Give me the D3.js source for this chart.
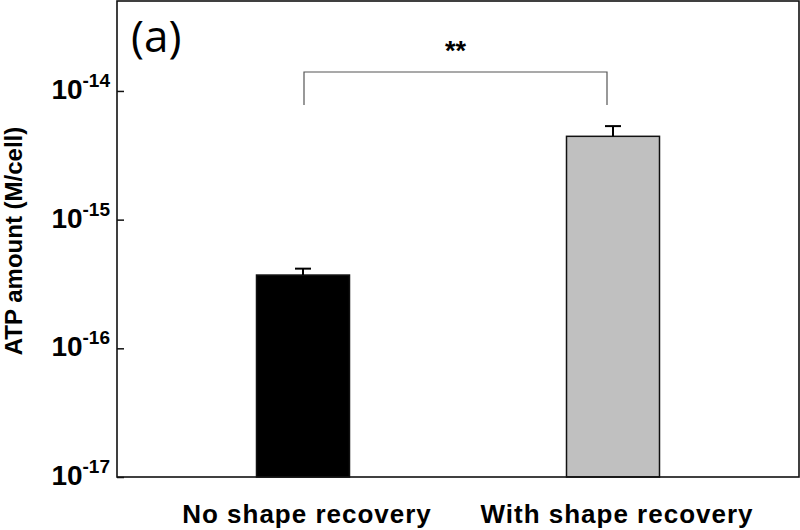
<!DOCTYPE html>
<html><head><meta charset="utf-8">
<script src="https://cdn.jsdelivr.net/npm/d3@7/dist/d3.min.js"></script>
<style>body{margin:0;background:#fff}svg{display:block}</style>
</head><body><svg id="c" width="800" height="530"></svg>
<script>
const categories = ["No shape recovery", "With shape recovery"];
const values = [3.71e-16, 4.44e-15];
const errors = [0.45e-16, 0.89e-15];
const fills = ["#000000", "#c0c0c0"];
const tickExps = [-17, -16, -15, -14];
const significance = "**";
const panelLabel = "(a)";
const yTitle = "ATP amount (M/cell)";

const svg = d3.select("#c");
const m = {l:117, r:1, t:1, b:53};
const W = 800, H = 530;
const x = d3.scaleBand().domain(categories).range([m.l, W - m.r]).paddingInner(0.7).paddingOuter(0.45);
const y = d3.scaleLog().domain([1e-17, 5e-14]).range([H - m.b, m.t]);

// bars
svg.selectAll("rect.bar").data(categories).join("rect")
  .attr("x", d => x(d)).attr("width", x.bandwidth())
  .attr("y", (d,i) => y(values[i])).attr("height", (d,i) => y(1e-17) - y(values[i]))
  .attr("fill", (d,i) => fills[i]).attr("stroke", "#111").attr("stroke-width", 1.5);

// error bars
categories.forEach((c,i) => {
  const cx = x(c) + x.bandwidth()/2;
  const top = y(values[i] + errors[i]);
  svg.append("line").attr("x1", cx).attr("x2", cx).attr("y1", y(values[i])).attr("y2", top)
    .attr("stroke", "#000").attr("stroke-width", 2);
  svg.append("line").attr("x1", cx - 8).attr("x2", cx + 8).attr("y1", top).attr("y2", top)
    .attr("stroke", "#000").attr("stroke-width", 2);
});

// frame
svg.append("rect").attr("x", m.l).attr("y", m.t).attr("width", W - m.r - m.l).attr("height", H - m.b - m.t)
  .attr("fill", "none").attr("stroke", "#111").attr("stroke-width", 1.6);

// y axis ticks (inward)
const ax = svg.append("g").attr("transform", `translate(${m.l},0)`)
  .call(d3.axisRight(y).tickValues(tickExps.map(e => Math.pow(10, e))).tickSize(7).tickFormat(""));
ax.select(".domain").remove();
ax.selectAll("line").attr("stroke", "#111").attr("stroke-width", 1.5);

// y tick labels
tickExps.forEach(e => {
  const t = svg.append("text").attr("x", 110).attr("y", y(Math.pow(10, e)) + 8)
    .attr("text-anchor", "end").attr("font-family", "Liberation Sans, Arial, sans-serif")
    .attr("font-weight", "bold").attr("fill", "#000");
  t.append("tspan").attr("font-size", 28).text("10");
  t.append("tspan").attr("font-size", 19).attr("dy", -12).text(String(e));
});

// y title
svg.append("text").attr("transform", `translate(22,241) rotate(-90)`)
  .attr("text-anchor", "middle").attr("font-family", "Liberation Sans, Arial, sans-serif")
  .attr("font-weight", "bold").attr("font-size", 24).text(yTitle);

// x labels
svg.selectAll("text.xl").data(categories).join("text")
  .attr("x", d => x(d) + x.bandwidth()/2 + 4).attr("y", 523)
  .attr("text-anchor", "middle").attr("font-family", "Liberation Sans, Arial, sans-serif")
  .attr("font-weight", "bold").attr("font-size", 26).attr("letter-spacing", 1).text(d => d);

// significance bracket
const bx1 = x(categories[0]) + x.bandwidth()/2 + 1, bx2 = x(categories[1]) + x.bandwidth()/2 - 6;
svg.append("path").attr("d", `M${bx1},105 V72 H${bx2} V105`)
  .attr("fill", "none").attr("stroke", "#555").attr("stroke-width", 1.2);
svg.append("text").attr("x", (bx1 + bx2)/2).attr("y", 60).attr("text-anchor", "middle")
  .attr("font-family", "Liberation Sans, Arial, sans-serif").attr("font-weight", "bold")
  .attr("font-size", 27).text(significance);

// panel label
svg.append("text").attr("x", 131).attr("y", 52).attr("font-family", "Open Sans, sans-serif")
  .attr("font-size", 44).text(panelLabel);
</script></body></html>
